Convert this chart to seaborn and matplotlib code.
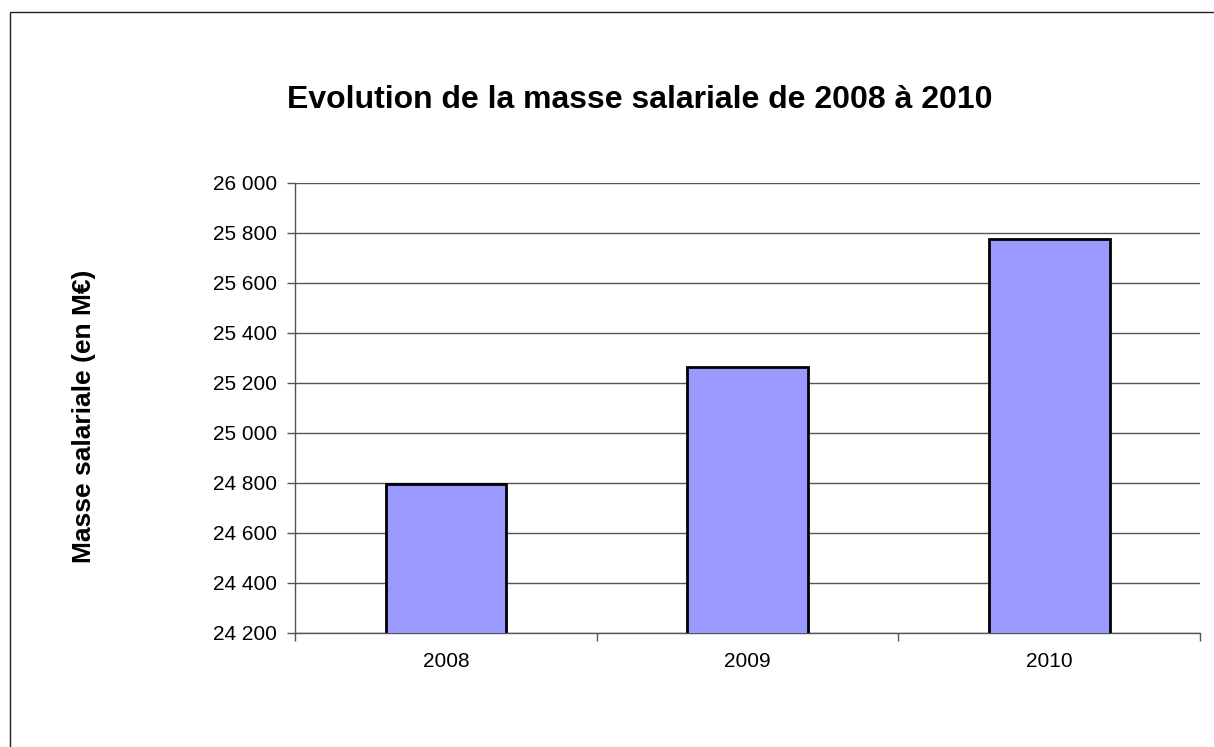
import matplotlib
matplotlib.use("Agg")
import matplotlib.pyplot as plt
import seaborn as sns
import pandas as pd
from matplotlib.ticker import FuncFormatter, FixedLocator
from matplotlib.patches import Rectangle

years = ["2008", "2009", "2010"]
values = [24795, 25265, 25776]

sns.set_theme(style="white")
plt.rcParams['font.family'] = ['Liberation Sans', 'DejaVu Sans']
plt.rcParams['text.color'] = 'black'

W, H = 1214, 747
fig = plt.figure(figsize=(W / 100, H / 100), dpi=100)
ax = fig.add_axes([295 / W, 1 - 633 / H, (1200 - 295) / W, (633 - 183) / H])

df = pd.DataFrame({"year": years, "value": values})
sns.barplot(data=df, x="year", y="value", color="#9999FF", saturation=1,
            edgecolor="black", linewidth=2, width=0.4, ax=ax, zorder=3)

ax.set_ylim(24200, 26000)
ax.set_xlim(-0.5, 2.5)
ax.yaxis.set_major_locator(FixedLocator(list(range(24200, 26001, 200))))
ax.yaxis.set_major_formatter(FuncFormatter(lambda v, p: f"{int(v):,}".replace(",", " ")))
ax.grid(axis="y", color="#555555", linewidth=1, zorder=0)
ax.set_axisbelow(True)

for s in ["top", "right"]:
    ax.spines[s].set_visible(False)
for s in ["left", "bottom"]:
    ax.spines[s].set_color("#555555")
    ax.spines[s].set_linewidth(1)

ax.tick_params(axis="y", which="major", left=True, length=6, width=1, color="#555555",
               labelsize=15, labelcolor="black", pad=7)
ax.tick_params(axis="x", which="major", bottom=False, labelsize=15, labelcolor="black", pad=8)
ax.xaxis.set_minor_locator(FixedLocator([-0.5, 0.5, 1.5, 2.5]))
ax.tick_params(axis="x", which="minor", bottom=True, length=6, width=1, color="#555555")

ax.set_xlabel("")
ax.set_ylabel("")
fig.text(84 / W, 1 - 416 / H, "Masse salariale (en M€)", rotation=90, ha="center", va="center",
         fontsize=19, fontweight="bold", color="black")
fig.text(640 / W, 1 - 108 / H, "Evolution de la masse salariale de 2008 à 2010", ha="center",
         va="baseline", fontsize=23, fontweight="bold", color="black")

fig.patches.append(Rectangle((9.5 / W, -0.1), 1.2, 1 - 12 / H + 0.1, transform=fig.transFigure,
                             fill=False, edgecolor="#222222", linewidth=1, clip_on=False))

fig.savefig("out.png", dpi=100)
